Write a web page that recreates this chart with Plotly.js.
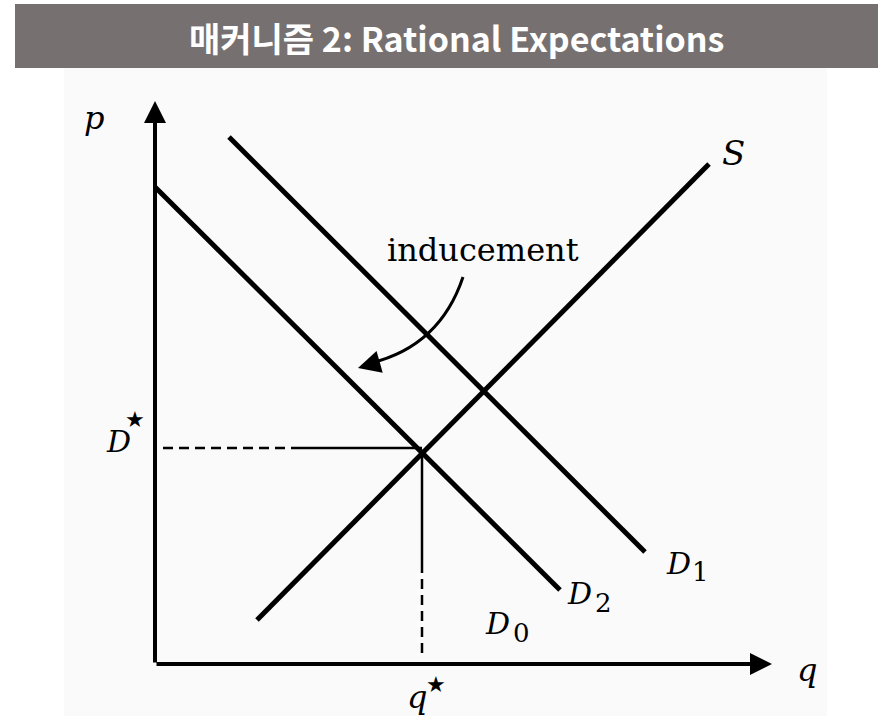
<!DOCTYPE html>
<html>
<head>
<meta charset="utf-8">
<script src="https://cdn.plot.ly/plotly-3.0.1.min.js"></script>
<style>
  html, body { margin: 0; padding: 0; background: #fff; }
  #chart { width: 878px; height: 716px; }
</style>
</head>
<body>
<div id="chart"></div>
<script>
// curve end points (q, p)
const supplyQ = [102, 554];
const supplyP = [44, 500];
const demand1Q = [74, 490];
const demand1P = [527, 112];
const demand2Q = [0, 405];
const demand2P = [477, 74];

// equilibrium D* / q*
const eqQ = 267;
const eqP = 216;
const dashEndQ = 145;   // where the horizontal guide turns solid
const dashStartP = 101; // where the vertical guide turns dashed

// axes
const axisQmax = 617;
const axisPmax = 563;

// labels
const labelText = ['<i>p</i>', '<i>q</i>', '<i>S</i>', '<i>D</i>', '<i>D</i>', '<i>D</i>', '<i>D</i>', '<i>q</i>'];
const labelQ = [-61, 652, 578, 523, 424, 342, -37, 262];
const labelP = [546, -6, 511, 101, 71, 41, 223, -33];
const subText = ['1', '2', '0'];
const subQ = [545, 448, 366];
const subP = [92, 61, 31];
const starQ = [-20, 281];
const starP = [245, -20];

const ink = '#000';

let traces = [
    { x: supplyQ, y: supplyP, mode: 'lines', line: { color: ink, width: 5 } },
    { x: demand1Q, y: demand1P, mode: 'lines', line: { color: ink, width: 5 } },
    { x: demand2Q, y: demand2P, mode: 'lines', line: { color: ink, width: 5 } },
    // D* guide
    { x: [8, dashEndQ], y: [eqP, eqP], mode: 'lines', line: { color: ink, width: 2.5, dash: '10px,6px' } },
    { x: [dashEndQ, eqQ], y: [eqP, eqP], mode: 'lines', line: { color: ink, width: 2.5 } },
    // q* guide
    { x: [eqQ, eqQ], y: [eqP - 4, dashStartP], mode: 'lines', line: { color: ink, width: 2.5 } },
    { x: [eqQ, eqQ], y: [dashStartP, 7], mode: 'lines', line: { color: ink, width: 2.5, dash: '10px,6px' } }
];

let annotations = [];

// axes with arrows
annotations.push({ x: axisQmax, y: 0, ax: 0, ay: 0, axref: 'x', ayref: 'y', xref: 'x', yref: 'y',
    text: '', showarrow: true, arrowhead: 2, arrowsize: 1.1, arrowwidth: 4, arrowcolor: ink });
annotations.push({ x: 0, y: axisPmax, ax: 0, ay: 0, axref: 'x', ayref: 'y', xref: 'x', yref: 'y',
    text: '', showarrow: true, arrowhead: 2, arrowsize: 1.1, arrowwidth: 4, arrowcolor: ink });

// inducement arrow head
annotations.push({ x: 203, y: 296, ax: 224, ay: 302, axref: 'x', ayref: 'y', xref: 'x', yref: 'y',
    text: '', showarrow: true, arrowhead: 2, arrowsize: 1.8, arrowwidth: 2.5, arrowcolor: ink });

labelText.forEach((t, i) => {
    annotations.push({ x: labelQ[i], y: labelP[i], xref: 'x', yref: 'y', text: t, showarrow: false,
        font: { family: 'DejaVu Serif', size: i === 2 ? 34 : (i < 2 || i === 7 ? 32 : 30), color: ink } });
});
subText.forEach((t, i) => {
    annotations.push({ x: subQ[i], y: subP[i], xref: 'x', yref: 'y', text: t, showarrow: false,
        font: { family: 'DejaVu Serif', size: 26, color: ink } });
});
starQ.forEach((q, i) => {
    annotations.push({ x: q, y: starP[i], xref: 'x', yref: 'y', text: '★', showarrow: false,
        font: { family: 'DejaVu Sans', size: 22, color: ink } });
});

annotations.push({ x: 328, y: 414, xref: 'x', yref: 'y', text: 'inducement', showarrow: false,
    font: { family: 'DejaVu Serif', size: 32, color: ink } });

// header
annotations.push({ x: 456 / 878, y: (716 - 37) / 716, xref: 'paper', yref: 'paper', yanchor: 'middle',
    text: '<b>매커니즘 2: Rational Expectations</b>', showarrow: false,
    font: { family: 'Noto Sans CJK KR', size: 34, color: '#fff' } });

let shapes = [
    { type: 'rect', xref: 'paper', yref: 'paper', x0: 64 / 878, x1: 827 / 878, y0: 0, y1: (716 - 68) / 716,
      fillcolor: '#fafafa', line: { width: 0 }, layer: 'below' },
    { type: 'rect', xref: 'paper', yref: 'paper', x0: 15 / 878, x1: 1, y0: (716 - 68) / 716, y1: (716 - 4) / 716,
      fillcolor: '#767170', line: { width: 0 }, layer: 'below' },
    // inducement curve
    { type: 'path', xref: 'x', yref: 'y', path: 'M 308,387 Q 285,318 216,301',
      line: { color: ink, width: 3 } }
];

let layout = {
    width: 878,
    height: 716,
    autosize: false,
    margin: { l: 0, r: 0, t: 0, b: 0, pad: 0 },
    paper_bgcolor: '#fff',
    plot_bgcolor: 'rgba(0,0,0,0)',
    showlegend: false,
    xaxis: { range: [-155, 723], visible: false, fixedrange: true },
    yaxis: { range: [-52, 664], visible: false, fixedrange: true },
    annotations: annotations,
    shapes: shapes
};

Plotly.newPlot('chart', traces, layout, { staticPlot: true, displayModeBar: false });
</script>
</body>
</html>
